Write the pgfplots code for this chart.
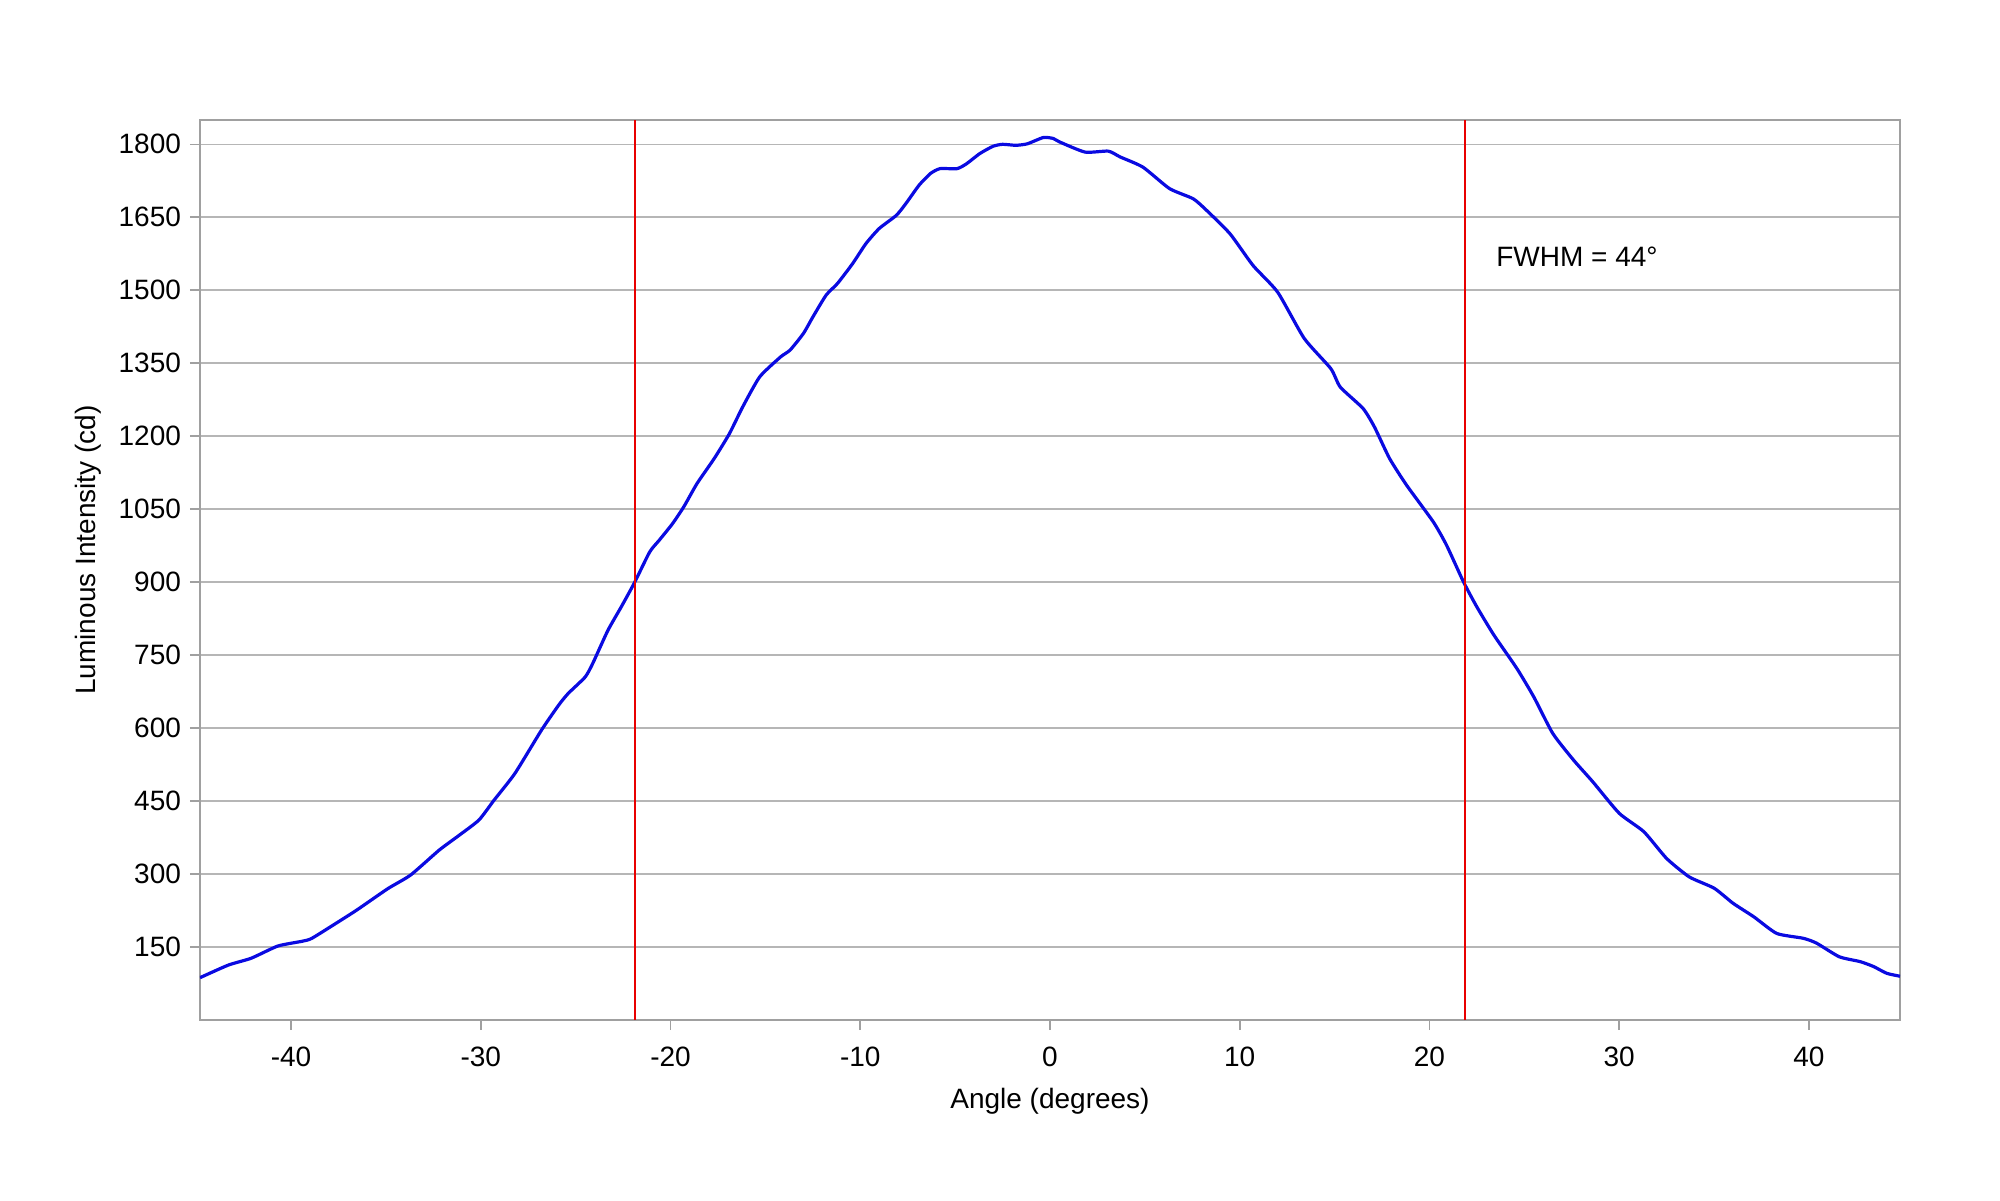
\documentclass[border=0pt]{standalone}
\usepackage{pgfplots}
\pgfplotsset{compat=1.18}
\usepackage{fontspec}
\setmainfont{Liberation Sans}
\definecolor{axgray}{RGB}{160,160,160}
\definecolor{gridgray}{RGB}{182,182,182}
\definecolor{curveblue}{RGB}{10,10,225}
\definecolor{fwhmred}{RGB}{232,0,0}
\begin{document}
\begin{tikzpicture}
\begin{axis}[
  scale only axis,
  width=850pt, height=450pt,
  xmin=-44.8, xmax=44.8,
  ymin=0, ymax=1850,
  xtick={-40,-30,...,40},
  ytick={150,300,...,1800},
  tick pos=left,
  tick align=outside,
  major tick length=5pt,
  every tick/.style={axgray, line width=0.8pt},
  axis line style={axgray, line width=1pt},
  ymajorgrids,
  grid style={gridgray, line width=0.8pt},
  /pgf/number format/assume math mode=true,
  /pgf/number format/set thousands separator={},
  tick label style={font=\fontsize{14}{16}\selectfont},
  xticklabel style={yshift=-5pt},
  yticklabel style={xshift=-1pt},
  xlabel={Angle (degrees)},
  ylabel={Luminous Intensity (cd)},
  label style={font=\fontsize{14}{16}\selectfont},
  xlabel style={yshift=-4pt},
  ylabel style={yshift=2pt, xshift=10pt},
  clip=true,
]
\addplot[curveblue, line width=1.6pt, smooth, tension=0.35] coordinates {
(-44.8,87) (-43.3,113) (-42.1,127) (-40.7,152) (-39.4,162) (-38.9,168)
(-37.5,202) (-36.5,227) (-34.9,270) (-33.7,298) (-32.2,349) (-31.2,378)
(-30.1,411) (-29.3,452) (-28.2,507) (-26.8,596) (-25.9,647) (-25.4,671)
(-24.5,705) (-24.1,733) (-23.3,801) (-22.6,849) (-21.9,899) (-21.1,962)
(-20.6,986) (-19.9,1020) (-19.3,1055) (-18.6,1103) (-17.7,1154) (-16.9,1205)
(-16.2,1260) (-15.3,1322) (-14.2,1363) (-13.7,1377) (-13.0,1411) (-12.5,1445)
(-11.8,1490) (-11.2,1514) (-10.4,1555) (-9.7,1596) (-9.0,1627) (-8.1,1654)
(-7.6,1678) (-6.9,1716) (-6.3,1740) (-5.8,1750) (-4.9,1750) (-4.4,1760)
(-3.7,1781) (-3.0,1796) (-2.5,1800) (-1.8,1798) (-1.2,1801) (-0.35,1814)
(0.17,1812) (0.5,1805) (1.85,1784) (3.07,1786) (3.7,1774) (4.9,1753)
(6.3,1709) (7.55,1688) (8.26,1664) (9.49,1616) (10.7,1551) (12.0,1496)
(13.4,1401) (14.8,1339) (15.3,1301) (16.5,1257) (17.1,1219) (17.9,1154)
(18.8,1099) (20.2,1024) (20.9,976) (21.8,900) (22.5,849) (23.4,791)
(24.6,723) (25.5,664) (26.5,589) (27.6,534) (28.6,490) (30.0,425)
(31.3,387) (32.5,332) (33.7,294) (35.0,271) (36.0,240) (37.1,212)
(38.3,178) (39.7,168) (40.4,158) (41.6,130) (42.7,120) (43.4,110)
(44.1,96) (44.8,90)
};
\addplot[fwhmred, line width=1pt] coordinates {(-21.85,0) (-21.85,1850)};
\addplot[fwhmred, line width=1pt] coordinates {(21.85,0) (21.85,1850)};
\node[anchor=base west, font=\fontsize{14}{16}\selectfont, inner sep=0pt] at (axis cs:23.5,1548) {FWHM = 44°};
\end{axis}
\pgfresetboundingbox
\path ([shift={(-100pt,-90pt)}]current axis.south west) rectangle ([shift={(50pt,60pt)}]current axis.north east);
\end{tikzpicture}
\end{document}
